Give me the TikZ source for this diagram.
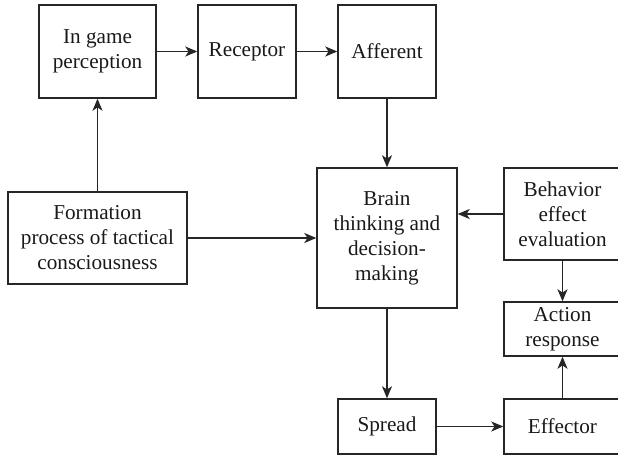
\documentclass[tikz,border=0pt]{standalone}
\usepackage{fontspec}
\setmainfont{Liberation Serif}
\usetikzlibrary{arrows.meta}
\begin{document}
\begin{tikzpicture}[x=0.5pt,y=-0.5pt,
  box/.style={draw=black!85, line width=0.7pt, inner sep=0pt, align=center,
    font=\fontsize{10.6}{12.5}\selectfont, text=black!90},
  arr/.style={draw=black!85, line width=0.7pt, -{Stealth[length=6pt,width=5pt,inset=1.6pt]}}]
\useasboundingbox (0,0) rectangle (618,455);
% upper row
\node[box, minimum width=58.5pt, minimum height=46.5pt] (ingame) at (97.5,51.5) {In game\\perception};
\node[box, minimum width=49pt, minimum height=46.5pt] (receptor) at (247,51.5) {Receptor};
\node[box, minimum width=49pt, minimum height=46.5pt] (afferent) at (387,51.5) {Afferent};
% middle row
\node[box, minimum width=89.5pt, minimum height=46pt] (formation) at (97.5,238) {Formation\\process of tactical\\consciousness};
\node[box, minimum width=70pt, minimum height=70pt] (brain) at (387,238) {Brain\\thinking and\\decision-\\making};
\node[box, minimum width=58.5pt, minimum height=46pt] (behavior) at (562.5,214) {Behavior\\effect\\evaluation};
\node[box, minimum width=58.5pt, minimum height=27pt] (action) at (562.5,329) {Action\\response};
% lower row
\node[box, minimum width=49pt, minimum height=27.5pt] (spread) at (387,426.5) {Spread};
\node[box, minimum width=58.5pt, minimum height=27.5pt] (effector) at (562.5,426.5) {Effector};
% connectors
\draw[arr] (ingame) -- (receptor);
\draw[arr] (receptor) -- (afferent);
\draw[arr] (afferent) -- (brain);
\draw[arr] (formation) -- (ingame);
\draw[arr] (formation) -- (brain);
\draw[arr] (behavior.west) -- (brain.east |- behavior.west);
\draw[arr] (behavior) -- (action);
\draw[arr] (brain) -- (spread);
\draw[arr] (spread) -- (effector);
\draw[arr] (effector) -- (action);
\end{tikzpicture}
\end{document}
